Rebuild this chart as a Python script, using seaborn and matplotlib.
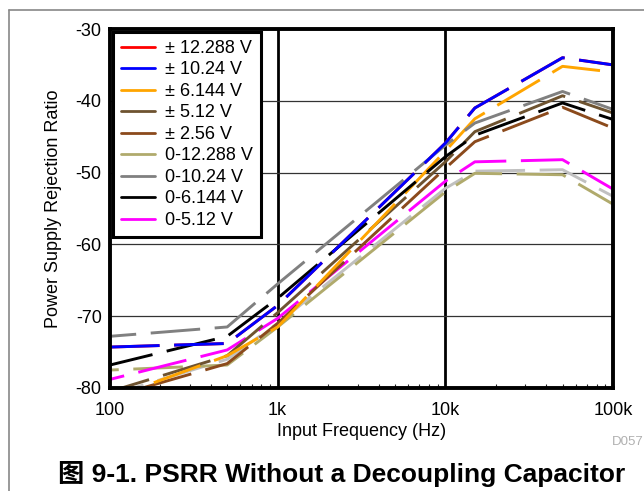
import matplotlib
matplotlib.use("Agg")
import matplotlib.pyplot as plt
import seaborn as sns
import pandas as pd
from matplotlib.lines import Line2D
from matplotlib.ticker import LogLocator, NullFormatter

# ---- data (PSRR in dB vs input frequency) ----
freq = [100, 500, 1000, 10000, 15000, 50000, 100000]

labels = ["± 12.288 V", "± 10.24 V", "± 6.144 V", "± 5.12 V", "± 2.56 V",
          "0-12.288 V", "0-10.24 V", "0-6.144 V", "0-5.12 V"]
colors = ["#ff0000", "#0000ff", "#ffa500", "#6e5330", "#8b4a1c",
          "#b0aa6c", "#808080", "#000000", "#ff00ff"]

pm12288 = [-74.3, -73.8, -68.5, -45.9, -41.0, -34.0, -35.0]   # hidden under blue
pm1024 = [-74.3, -73.8, -68.5, -45.9, -41.0, -34.0, -35.0]
pm6144 = [-81.5, -75.5, -71.5, -47.0, -42.5, -35.2, -36.0]
pm512 = [-80.5, -75.5, -69.5, -48.5, -44.3, -39.3, -41.7]
pm256 = [-81.3, -76.6, -71.0, -49.4, -45.7, -40.9, -43.8]
u12288 = [-77.5, -76.8, -71.5, -52.7, -50.1, -50.3, -54.4]
u1024 = [-72.8, -71.5, -65.5, -46.2, -43.1, -38.7, -41.2]
u6144 = [-76.8, -72.8, -67.5, -47.8, -44.8, -40.3, -42.6]
u512 = [-78.8, -74.7, -70.3, -51.2, -48.5, -48.2, -52.3]
extra = [-81.0, -76.0, -71.0, -52.2, -49.8, -49.6, -53.3]   # light grey, not in legend

series = [pm12288, pm1024, pm6144, pm512, pm256, u12288, u1024, u6144, u512]

sns.set_theme(style="white")
plt.rcParams["font.family"] = ["Liberation Sans", "Noto Sans CJK SC", "DejaVu Sans"]
plt.rcParams["axes.unicode_minus"] = False
plt.rcParams["text.color"] = "black"
plt.rcParams["axes.labelcolor"] = "black"

fig = plt.figure(figsize=(6.44, 4.91), dpi=100)
ax = fig.add_axes([110 / 644, 1 - 388 / 491, 503 / 644, 359 / 491])

dash = (17, 5)
offsets = [0, 0, 6, 3, 10, 14, 8, 2, 12]
order = [0, 9, 5, 8, 4, 3, 2, 7, 6, 1]   # drawing order (extra = 9)
for i in order:
    if i == 9:
        vals, col, off = extra, "#c0c0c0", 5
    else:
        vals, col, off = series[i], colors[i], offsets[i]
    df = pd.DataFrame({"f": freq, "v": vals})
    sns.lineplot(data=df, x="f", y="v", ax=ax, color=col, lw=2.1,
                 linestyle=(off, dash), legend=False)

ax.set_xscale("log")
ax.set_xlim(100, 100000)
ax.set_ylim(-80, -30)
ax.set_xticks([100, 1000, 10000, 100000])
ax.set_xticklabels(["100", "1k", "10k", "100k"])
ax.set_yticks([-80, -70, -60, -50, -40, -30])
ax.xaxis.set_minor_locator(LogLocator(base=10, subs=range(2, 10)))
ax.xaxis.set_minor_formatter(NullFormatter())
ax.tick_params(axis="both", which="major", length=0, labelsize=13, pad=6, colors="black")
ax.tick_params(axis="x", which="major", pad=10)
ax.tick_params(axis="x", which="minor", direction="in", length=3, width=0.8, bottom=True)

# grid: heavy vertical decades, thin horizontal
for xv in [1000, 10000]:
    ax.axvline(xv, color="black", lw=2, zorder=0.5)
for yv in [-70, -60, -50, -40]:
    ax.axhline(yv, color="#333333", lw=0.9, zorder=0.5)

for s in ax.spines.values():
    s.set_linewidth(2.8)
    s.set_color("black")

ax.set_xlabel("Input Frequency (Hz)", fontsize=13, labelpad=3)
ax.set_ylabel("Power Supply Rejection Ratio", fontsize=13, labelpad=10)

handles = [Line2D([0], [0], color=c, lw=2) for c in colors]
leg = ax.legend(handles, labels, loc="upper left", bbox_to_anchor=(0.0, 1.0),
                fontsize=13, frameon=True, fancybox=False, framealpha=1,
                edgecolor="black", handlelength=1.9, handletextpad=0.55,
                labelspacing=0.25, borderpad=0.45, borderaxespad=0.15)
leg.get_frame().set_linewidth(2.2)
leg.set_zorder(5)

fig.text(612 / 644, 1 - 442 / 491, "D057", fontsize=9.5, color="#b0b0b0",
         ha="left", va="center")
fig.text(342 / 644, 1 - 474 / 491, "图 9-1. PSRR Without a Decoupling Capacitor",
         fontsize=19, weight="bold", ha="center", va="center")

# outer page frame
fig.add_artist(Line2D([9 / 644, 9 / 644], [0, 1 - 10 / 491], color="#888888", lw=1.2,
                      transform=fig.transFigure))
fig.add_artist(Line2D([9 / 644, 1], [1 - 10 / 491, 1 - 10 / 491], color="#888888", lw=1.2,
                      transform=fig.transFigure))

fig.savefig("out.png", dpi=100)
